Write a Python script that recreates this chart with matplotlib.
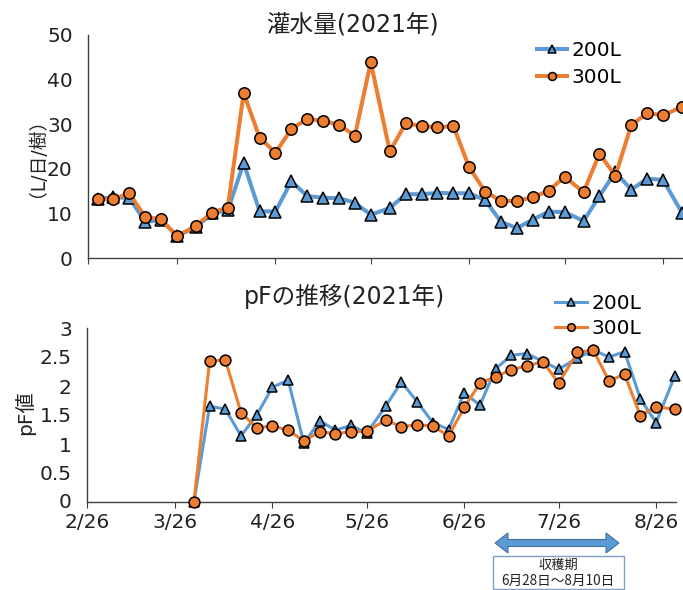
import datetime as dt
import matplotlib
matplotlib.use("Agg")
import matplotlib.pyplot as plt
from matplotlib.patches import Polygon, Rectangle
from matplotlib.transforms import ScaledTranslation

plt.rcParams['font.family'] = ['DejaVu Sans', 'Noto Sans CJK JP']

# pentad dates (1st, 6th, 11th, 16th, 21st, 26th of each month)
date_labels = ["3/1", "3/6", "3/11", "3/16", "3/21", "3/26",
               "4/1", "4/6", "4/11", "4/16", "4/21", "4/26",
               "5/1", "5/6", "5/11", "5/16", "5/21", "5/26",
               "6/1", "6/6", "6/11", "6/16", "6/21", "6/26",
               "7/1", "7/6", "7/11", "7/16", "7/21", "7/26",
               "8/1", "8/6", "8/11", "8/16", "8/21", "8/26", "9/1"]

water_200 = [13.3, 13.6, 13.5, 8.1, 8.5, 5.0, 6.9, 10.0, 10.7, 21.3, 10.5, 10.4,
             17.2, 13.9, 13.5, 13.4, 12.4, 9.7, 11.2, 14.3, 14.3, 14.6, 14.5, 14.5,
             13.0, 8.1, 6.7, 8.6, 10.4, 10.3, 8.3, 13.9, 19.3, 15.3, 17.8, 17.5, 10.1]
water_300 = [13.2, 13.2, 14.5, 9.2, 8.7, 4.9, 7.2, 10.2, 11.3, 37.0, 27.0, 23.6,
             28.9, 31.2, 30.7, 29.9, 27.4, 43.9, 23.9, 30.2, 29.6, 29.3, 29.6, 20.3,
             14.9, 12.8, 12.8, 13.6, 15.1, 18.2, 14.8, 23.4, 18.4, 29.8, 32.5, 32.0, 33.9]

# pF starts on 4/1
pf_labels = date_labels[6:]
pf_200 = [0.0, 1.65, 1.60, 1.14, 1.50, 1.98, 2.10, 1.01, 1.40, 1.24, 1.32, 1.19,
          1.65, 2.07, 1.73, 1.37, 1.25, 1.88, 1.67, 2.30, 2.53, 2.56, 2.42, 2.29,
          2.48, 2.62, 2.50, 2.59, 1.78, 1.37, 2.18]
pf_300 = [0.0, 2.43, 2.45, 1.54, 1.28, 1.31, 1.24, 1.05, 1.21, 1.18, 1.21, 1.22,
          1.41, 1.30, 1.33, 1.31, 1.14, 1.63, 2.05, 2.16, 2.28, 2.35, 2.42, 2.05,
          2.58, 2.62, 2.09, 2.20, 1.49, 1.64, 1.60]

tick_labels = ["2/26", "3/26", "4/26", "5/26", "6/26", "7/26", "8/26"]


def to_date(s):
    m, d = s.split("/")
    return dt.datetime(2021, int(m), int(d))


dates = [to_date(s) for s in date_labels]
pf_dates = [to_date(s) for s in pf_labels]
tick_dates = [to_date(s) for s in tick_labels]
start = to_date("2/26")

BLUE = '#5B9BD5'
ORANGE = '#ED7D31'
AX_COL = '#404040'
TXT = '#222222'

W, H = 683, 590
fig = plt.figure(figsize=(W / 100, H / 100), dpi=100)


def fx(px):
    return px / W


def fy(py):
    return 1 - py / H


def style_axis(ax):
    for s in ['top', 'right']:
        ax.spines[s].set_visible(False)
    for s in ['left', 'bottom']:
        ax.spines[s].set_color(AX_COL)
        ax.spines[s].set_linewidth(1.0)
    ax.tick_params(axis='y', length=0, pad=11, labelsize=14.5, labelcolor=TXT)
    ax.tick_params(axis='x', length=4, direction='out', color=AX_COL, pad=4,
                   labelsize=14.5, labelcolor=TXT)
    ax.set_xticks(tick_dates)
    ax.set_xticklabels(tick_labels)


# ---- top: irrigation amount
ax1 = fig.add_axes([fx(88), fy(258), fx(190 * 3.177), (258 - 35) / H])
ax1.plot(dates, water_200, color=BLUE, lw=2.9, marker='^', ms=8.0,
         mfc=BLUE, mec='black', mew=1.1, label='200L', zorder=3)
ax1.plot(dates, water_300, color=ORANGE, lw=2.9, marker='o', ms=8.2,
         mfc=ORANGE, mec='black', mew=1.1, label='300L', zorder=4)
ax1.set_ylim(0, 50)
ax1.set_yticks([0, 10, 20, 30, 40, 50])
ax1.set_xlim(start, start + dt.timedelta(days=190))
style_axis(ax1)
ax1.set_xticklabels([])
fig.text(fx(352), fy(25), '灌水量(2021年)', ha='center', va='center', fontsize=17,
         color=TXT)
fig.text(fx(27), fy(148), '（L/日/樹）', ha='center', va='center', rotation=90,
         fontsize=13.5, color=TXT)
fig.legend(*ax1.get_legend_handles_labels(), loc='upper left',
           bbox_to_anchor=(fx(537), fy(41)), frameon=False, fontsize=14.5,
           handlelength=1.5, handletextpad=0.2, labelspacing=0.4,
           borderpad=0, borderaxespad=0, markerscale=0.7)

# ---- bottom: pF
ax2 = fig.add_axes([fx(87), fy(502), fx(187.3 * 3.144), (502 - 328) / H])
ax2.plot(pf_dates, pf_200, color=BLUE, lw=2.2, marker='^', ms=7.8,
         mfc=BLUE, mec='black', mew=1.1, label='200L', zorder=3, clip_on=False)
ax2.plot(pf_dates, pf_300, color=ORANGE, lw=2.2, marker='o', ms=7.8,
         mfc=ORANGE, mec='black', mew=1.1, label='300L', zorder=4, clip_on=False)
ax2.set_ylim(0, 3)
ax2.set_yticks([0, 0.5, 1, 1.5, 2, 2.5, 3])
ax2.set_yticklabels(['0', '0.5', '1', '1.5', '2', '2.5', '3'])
ax2.set_xlim(start, start + dt.timedelta(days=187.3))
style_axis(ax2)
# lift only the bottom-left "0" a little so it clears "2/26"
zero_lab = ax2.get_yticklabels()[0]
zero_lab.set_transform(zero_lab.get_transform()
                       + ScaledTranslation(0, 2 / 100, fig.dpi_scale_trans))
fig.text(fx(344), fy(296), 'pFの推移(2021年)', ha='center', va='center', fontsize=17,
         color=TXT)
fig.text(fx(25), fy(413), 'pF値', ha='center', va='center', rotation=90,
         fontsize=14.5, color=TXT)
fig.legend(*ax2.get_legend_handles_labels(), loc='upper left',
           bbox_to_anchor=(fx(555), fy(294)), frameon=False, fontsize=14.5,
           handlelength=1.6, handletextpad=0.2, labelspacing=0.32,
           borderpad=0, borderaxespad=0, markerscale=0.7)

# ---- harvest period arrow and box (figure pixels)
x0, x1, yc = 495, 619, 543
hl, hh, bh = 13, 10, 3.5
pts = [(x0, yc), (x0 + hl, yc - hh), (x0 + hl, yc - bh), (x1 - hl, yc - bh),
       (x1 - hl, yc - hh), (x1, yc), (x1 - hl, yc + hh), (x1 - hl, yc + bh),
       (x0 + hl, yc + bh), (x0 + hl, yc + hh)]
fig.patches.append(Polygon([(fx(px), fy(py)) for px, py in pts], closed=True,
                           transform=fig.transFigure, facecolor=BLUE,
                           edgecolor='#41719C', lw=0.8))
fig.patches.append(Rectangle((fx(493), fy(589)), fx(624 - 493), (589 - 556) / H,
                             transform=fig.transFigure, facecolor='white',
                             edgecolor='#7F9FC8', lw=1.0))
fig.text(fx(558), fy(565), '収穫期', ha='center', va='center', fontsize=9.5,
         color=TXT)
fig.text(fx(558), fy(581), '6月28日～8月10日', ha='center', va='center', fontsize=9.8,
         color=TXT, family=['Noto Sans CJK JP', 'DejaVu Sans'])

fig.savefig('out.png', dpi=100)
